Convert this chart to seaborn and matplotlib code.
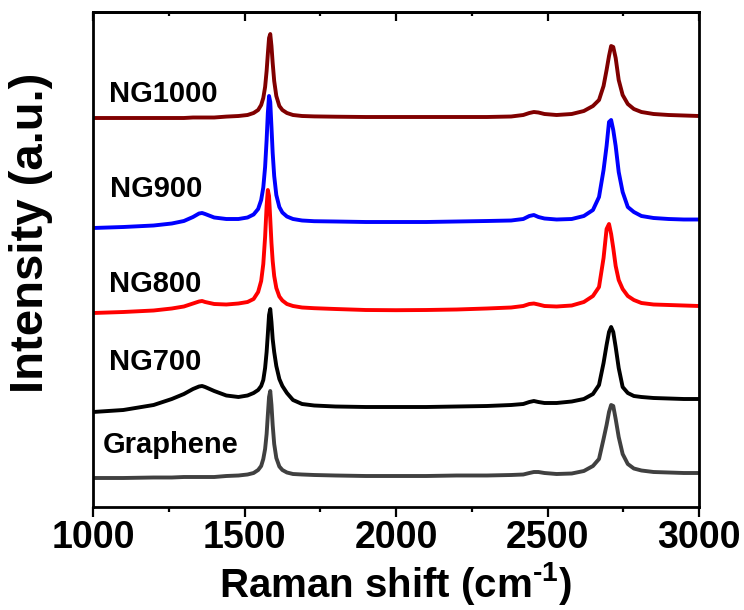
import numpy as np
import pandas as pd
import matplotlib
matplotlib.use('Agg')
import matplotlib.pyplot as plt
import seaborn as sns
from matplotlib.ticker import MultipleLocator

# Raman shift (cm-1) sample positions
shift = [1000, 1100, 1200, 1260, 1300, 1330, 1350, 1360, 1370, 1400,
         1440, 1480, 1510, 1530, 1545, 1555, 1562, 1568, 1573, 1577,
         1581, 1585, 1589, 1593, 1598, 1605, 1615, 1625, 1640, 1660,
         1690, 1730, 1800, 1900, 2000, 2100, 2200, 2300, 2380, 2420,
         2440, 2455, 2470, 2490, 2530, 2580, 2620, 2650, 2670, 2685,
         2695, 2703, 2710, 2717, 2725, 2735, 2748, 2765, 2785, 2810,
         2850, 2900, 2950, 3000]

# stacked intensities (a.u.)
graphene = [29, 29, 29.5, 29.5, 30, 30, 30, 30, 30, 30,
            31, 31.5, 32.5, 34, 37, 41, 48, 58, 73, 92,
            110, 116, 102, 82, 63, 49, 40.5, 37, 34.5, 33,
            32.5, 32, 31.5, 31, 31, 31, 31.5, 31.5, 32, 32.5,
            34, 35, 35, 34, 33, 33.5, 36, 41, 48, 68,
            82, 95, 102, 101, 88, 70, 53, 43, 38.5, 36.5,
            35, 34.5, 34, 34]
ng700 = [95, 97, 102, 108, 113, 118, 120.5, 121, 120, 116,
         111.5, 110, 111.5, 114, 117, 121, 127, 139, 155, 173,
         192, 198, 185, 168, 155, 141, 128, 121, 114, 107,
         103, 101.5, 100.5, 100, 100, 100, 100.5, 101, 102, 103,
         105, 106, 105, 104, 104, 105.5, 108, 113, 122, 144,
         162, 175, 180, 175, 160, 139, 120, 114, 111, 110,
         109, 108.5, 108, 108]
ng800 = [194, 195, 196.5, 198.5, 200.5, 203.5, 205.5, 206, 205, 203,
         202.5, 203.5, 205, 208, 215, 226, 243, 270, 301, 317,
         311, 288, 264, 246, 231, 219, 210.5, 206.5, 203, 201,
         199.5, 198.8, 198, 197, 196.8, 197, 197.5, 198.5, 199.5, 201,
         203, 203.5, 202.5, 201, 200.5, 201.5, 205, 211, 220, 249,
         278, 283, 273, 259, 241, 227, 218, 211, 207, 204,
         202.5, 202, 201.5, 201]
ng900 = [279, 280, 281.5, 283.5, 286, 290, 293.5, 294, 293, 289.5,
         288, 288, 289.5, 292.5, 298, 307, 319.5, 340, 367, 394,
         411, 405, 380, 354, 331, 312, 300, 294.5, 290.5, 288,
         286.5, 285.8, 285.5, 285, 285, 285, 285.5, 286, 286.5, 288,
         291, 292, 290, 288.5, 287.5, 288, 291, 297, 310, 337,
         361, 385, 387, 377, 361, 335, 315, 300, 295, 291,
         289, 288, 287.5, 287.5]
ng1000 = [389, 389, 389, 389, 389, 389.5, 389.5, 389.5, 389.5, 389.5,
          390.4, 391, 392, 394, 397, 402, 409, 420, 436, 453,
          469, 473, 461, 444, 426, 411, 401, 397, 394, 392,
          391, 390.6, 390.3, 390, 390, 390, 390, 390, 390.5, 392,
          394, 395, 394.5, 393, 392, 393, 396, 401, 407, 421,
          437, 451, 461, 460, 449, 427, 412, 403, 398, 395,
          393, 392, 391.5, 391]

samples = ['Graphene', 'NG700', 'NG800', 'NG900', 'NG1000']
colors = ['#404040', '#000000', '#ff0000', '#0000ff', '#800000']
label_x = [1033, 1053, 1053, 1056, 1053]
label_y = [54, 137, 215, 310, 405]
xticks = [1000, 1500, 2000, 2500, 3000]

series = [graphene, ng700, ng800, ng900, ng1000]
for s in series:
    assert len(s) == len(shift)

sns.set_style('ticks')
plt.rcParams['font.family'] = ['Liberation Sans', 'DejaVu Sans']
plt.rcParams['font.weight'] = 'bold'
plt.rcParams['text.color'] = 'black'
plt.rcParams['axes.labelcolor'] = 'black'
plt.rcParams['xtick.color'] = 'black'
plt.rcParams['ytick.color'] = 'black'
plt.rcParams['axes.edgecolor'] = 'black'
plt.rcParams['mathtext.fontset'] = 'custom'
plt.rcParams['mathtext.rm'] = 'Liberation Sans:bold'
plt.rcParams['mathtext.bf'] = 'Liberation Sans:bold'
plt.rcParams['mathtext.it'] = 'Liberation Sans:bold'
plt.rcParams['mathtext.sf'] = 'Liberation Sans:bold'

df = pd.DataFrame({
    'shift': shift * len(samples),
    'intensity': sum(series, []),
    'sample': np.repeat(samples, len(shift)),
})

fig = plt.figure(figsize=(7.44, 6.10), dpi=100)
ax = fig.add_axes([93 / 744, 103 / 610, 606 / 744, 495 / 610])

sns.lineplot(data=df, x='shift', y='intensity', hue='sample',
             hue_order=samples, palette=dict(zip(samples, colors)),
             linewidth=2.8, legend=False, estimator=None, ax=ax)

for name, lx, ly in zip(samples, label_x, label_y):
    ax.text(lx, ly, name, fontsize=21, fontweight='bold', color='black',
            ha='left', va='baseline')

ax.set_xlim(1000, 3000)
ax.set_ylim(0, 495)
ax.set_xticks(xticks)
ax.xaxis.set_minor_locator(MultipleLocator(250))
ax.set_yticks([])
ax.tick_params(axis='x', which='major', direction='out', length=7.2,
               width=1.6, labelsize=27, pad=2, colors='black')
ax.tick_params(axis='x', which='minor', direction='out', length=3.6,
               width=1.6, colors='black')
for lab in ax.get_xticklabels():
    lab.set_fontweight('bold')
for sp in ax.spines.values():
    sp.set_visible(True)
    sp.set_linewidth(2)
    sp.set_color('black')

top = ax.secondary_xaxis('top')
top.set_xticks(xticks)
top.xaxis.set_minor_locator(MultipleLocator(250))
top.tick_params(axis='x', which='major', direction='in', length=6.5,
                width=1.6, labeltop=False, colors='black')
top.tick_params(axis='x', which='minor', direction='in', length=3,
                width=1.6, colors='black')
top.spines['top'].set_linewidth(2)
top.spines['top'].set_color('black')

ax.set_xlabel(r'Raman shift (cm$^{\text{-}1}$)', fontsize=29,
              fontweight='bold', labelpad=3, color='black')
ax.set_ylabel('Intensity (a.u.)', fontsize=34, fontweight='bold',
              color='black')
ax.yaxis.set_label_coords(-0.066, 0.5545)

fig.savefig('out.png', dpi=100)
